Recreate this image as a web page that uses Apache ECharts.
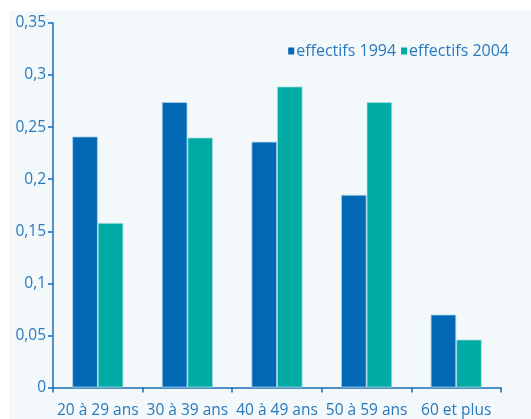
<!DOCTYPE html>
<html>
<head>
<meta charset="utf-8">
<script src="https://cdn.jsdelivr.net/npm/echarts@6/dist/echarts.min.js"></script>
<style>
  html, body { margin: 0; padding: 0; background: #ffffff; }
  #chart { width: 531px; height: 419px; }
</style>
</head>
<body>
<div id="chart"></div>
<script>
// Age groups and share of staff per group
const categories = ['20 à 29 ans', '30 à 39 ans', '40 à 49 ans', '50 à 59 ans', '60 et plus'];
const effectifs1994 = [0.241, 0.274, 0.236, 0.185, 0.070];
const effectifs2004 = [0.158, 0.240, 0.289, 0.274, 0.046];
const seriesNames = ['effectifs 1994', 'effectifs 2004'];

const textBlue = '#2a78bd';
const axisBlue = '#1a6cb4';
const fontFamily = '"Open Sans", Lato, sans-serif';

const chart = echarts.init(document.getElementById('chart'), null, { renderer: 'canvas' });

chart.setOption({
  backgroundColor: '#ffffff',
  animation: false,
  graphic: [{
    type: 'rect',
    z: -10,
    silent: true,
    shape: { x: 9, y: 11, width: 522, height: 408 },
    style: { fill: '#f3f9fa' }
  }],
  legend: {
    right: 17,
    top: 38,
    itemWidth: 6,
    itemHeight: 7,
    itemGap: 5,
    icon: 'rect',
    itemStyle: { borderWidth: 0 },
    textStyle: { color: textBlue, fontSize: 16, fontFamily: fontFamily, padding: [0, 0, 0, -3] },
    data: seriesNames
  },
  grid: { left: 53, right: 30, top: 23, bottom: 31.5 },
  xAxis: {
    type: 'category',
    data: categories,
    axisLine: { lineStyle: { color: axisBlue, width: 1.5 } },
    axisTick: { show: true, length: 5, lineStyle: { color: axisBlue, width: 1.5 } },
    axisLabel: { interval: 0, color: textBlue, fontSize: 15.5, fontFamily: fontFamily, margin: 15 },
    splitLine: { show: false }
  },
  yAxis: {
    type: 'value',
    min: 0,
    max: 0.35,
    interval: 0.05,
    axisLine: { show: true, lineStyle: { color: axisBlue, width: 1.5 } },
    axisTick: { show: true, length: 5, lineStyle: { color: axisBlue, width: 1.5 } },
    axisLabel: {
      color: textBlue, fontSize: 15.5, fontFamily: fontFamily, margin: 7,
      formatter: v => String(Number(v.toFixed(2))).replace('.', ',')
    },
    splitLine: { show: false }
  },
  series: [
    {
      name: seriesNames[0],
      type: 'bar',
      data: effectifs1994,
      barGap: '0%',
      barCategoryGap: '43%',
      itemStyle: { color: '#0068b4', borderColor: '#a9d3ea', borderWidth: 0.8 }
    },
    {
      name: seriesNames[1],
      type: 'bar',
      data: effectifs2004,
      itemStyle: { color: '#00aba6', borderColor: '#a9dfe0', borderWidth: 0.8 }
    }
  ]
});
</script>
</body>
</html>
